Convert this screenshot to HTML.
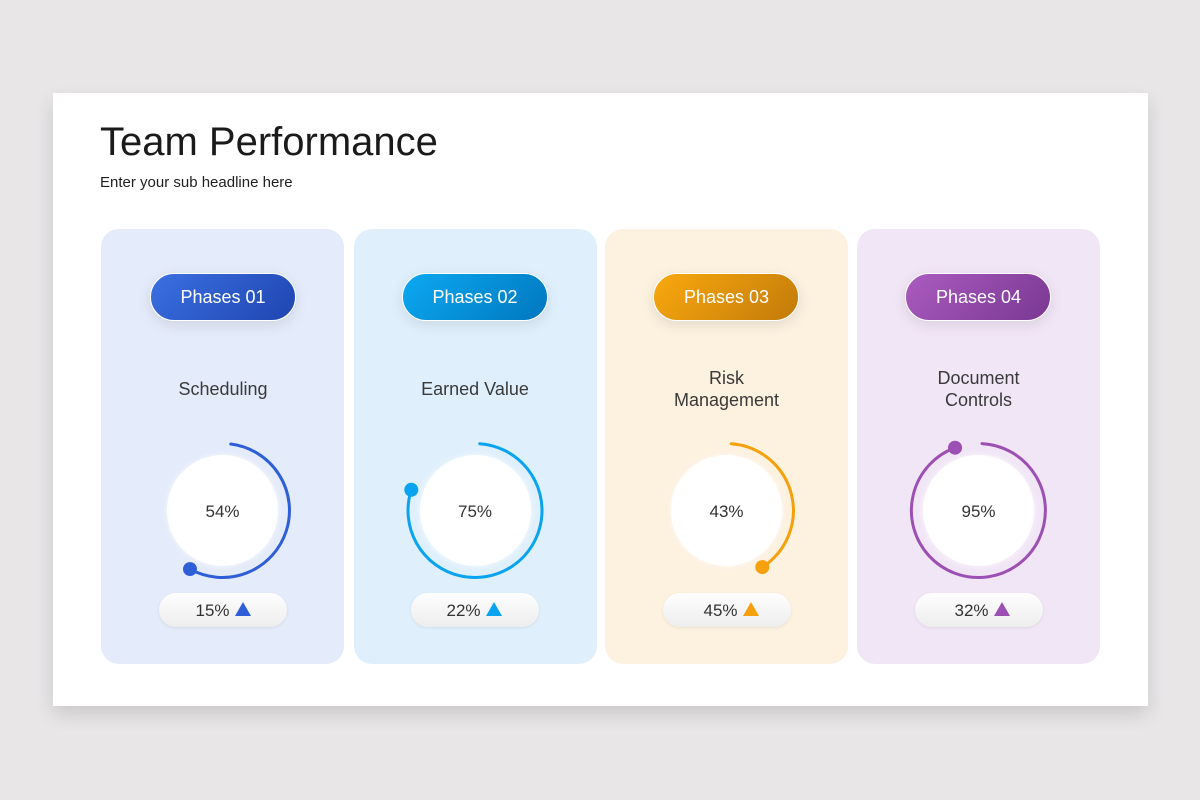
<!DOCTYPE html>
<html><head><meta charset="utf-8">
<style>
html,body{margin:0;padding:0;}
body{width:1200px;height:800px;background:#e8e6e7;position:relative;overflow:hidden;font-family:"Liberation Sans",Arial,sans-serif;}
.slide{position:absolute;left:53px;top:93px;width:1095px;height:613px;background:#fff;box-shadow:0 8px 18px rgba(0,0,0,0.13);}
.card{position:absolute;top:229px;width:243px;height:435px;border-radius:18px;}
.pill{position:absolute;top:273px;width:146px;height:48px;border-radius:24px;box-sizing:border-box;border:1.5px solid #fff;box-shadow:0 4px 14px rgba(0,0,0,0.10);}
.inner{position:absolute;width:111px;height:111px;border-radius:50%;background:#fff;top:455px;box-shadow:0 0 6px rgba(255,255,255,0.8);}
.bpill{position:absolute;top:593px;width:128px;height:34px;border-radius:17px;background:linear-gradient(#fefefe,#ededed);box-shadow:0 1px 3px rgba(0,0,0,0.08);}
svg{position:absolute;left:0;top:0;}
</style></head><body>
<div class="slide"></div>

<div class="card" style="left:101px;background:#e4ebfa;"></div>
<div class="card" style="left:354px;background:#dff0fc;"></div>
<div class="card" style="left:605px;background:#fdf1e0;"></div>
<div class="card" style="left:857px;background:#f1e6f6;"></div>

<div class="pill" style="left:150px;background:linear-gradient(135deg,#3b70e2,#1f45b0);"></div>
<div class="pill" style="left:402px;background:linear-gradient(135deg,#0ca9f2,#0077be);"></div>
<div class="pill" style="left:653px;background:linear-gradient(135deg,#faa90e,#c27a0a);"></div>
<div class="pill" style="left:905px;background:linear-gradient(135deg,#ab5cc0,#793792);"></div>

<div class="inner" style="left:167px;"></div>
<div class="inner" style="left:419.5px;"></div>
<div class="inner" style="left:671px;"></div>
<div class="inner" style="left:923px;"></div>

<div class="bpill" style="left:159px;"></div>
<div class="bpill" style="left:411px;"></div>
<div class="bpill" style="left:663px;"></div>
<div class="bpill" style="left:915px;"></div>

<svg width="1200" height="800" viewBox="0 0 1200 800">
  <text x="100" y="155" font-family="Liberation Sans, Arial, sans-serif" font-size="40" fill="#1a1a1a">Team Performance</text>
  <text x="100" y="187" font-family="Liberation Sans, Arial, sans-serif" font-size="15" fill="#1f1f1f">Enter your sub headline here</text>

  <g font-family="Liberation Sans, Arial, sans-serif" font-size="18" fill="#ffffff" text-anchor="middle">
    <text x="223" y="303">Phases 01</text>
    <text x="475" y="303">Phases 02</text>
    <text x="726.5" y="303">Phases 03</text>
    <text x="978.5" y="303">Phases 04</text>
  </g>

  <g font-family="Liberation Sans, Arial, sans-serif" font-size="18" fill="#3a3a3a" text-anchor="middle">
    <text x="223" y="395">Scheduling</text>
    <text x="475" y="395">Earned Value</text>
    <text x="726.5" y="384">Risk</text>
    <text x="726.5" y="406">Management</text>
    <text x="978.5" y="384">Document</text>
    <text x="978.5" y="406">Controls</text>
  </g>

  <!-- arcs -->
  <g fill="none" stroke-width="3" stroke-linecap="round">
    <path d="M230.7 444.0 A67 67 0 1 1 190.0 569.1" stroke="#2f5fd8"/>
    <path d="M479.7 443.7 A67 67 0 1 1 411.3 489.8" stroke="#0aa3f0"/>
    <path d="M731.2 443.7 A67 67 0 0 1 762.3 567.1" stroke="#f5a00c"/>
    <path d="M982.0 443.6 A67 67 0 1 1 955.05 447.7" stroke="#9c50b4"/>
  </g>
  <circle cx="190.0" cy="569.1" r="7" fill="#2f5fd8"/>
  <circle cx="411.3" cy="489.8" r="7" fill="#0aa3f0"/>
  <circle cx="762.3" cy="567.1" r="7" fill="#f5a00c"/>
  <circle cx="955.05" cy="447.7" r="7" fill="#9c50b4"/>

  <g font-family="Liberation Sans, Arial, sans-serif" font-size="17" fill="#333" text-anchor="middle">
    <text x="222.5" y="517">54%</text>
    <text x="475" y="517">75%</text>
    <text x="726.5" y="517">43%</text>
    <text x="978.5" y="517">95%</text>
  </g>

  <g font-family="Liberation Sans, Arial, sans-serif" font-size="17" fill="#333" text-anchor="middle">
    <text x="212.5" y="616">15%</text>
    <text x="463.5" y="616">22%</text>
    <text x="720.5" y="616">45%</text>
    <text x="971.5" y="616">32%</text>
  </g>
  <polygon points="235,616 251,616 243,602" fill="#2f5fd8"/>
  <polygon points="486,616 502,616 494,602" fill="#0aa3f0"/>
  <polygon points="743,616 759,616 751,602" fill="#f5a00c"/>
  <polygon points="994,616 1010,616 1002,602" fill="#9c50b4"/>
</svg>
</body></html>
